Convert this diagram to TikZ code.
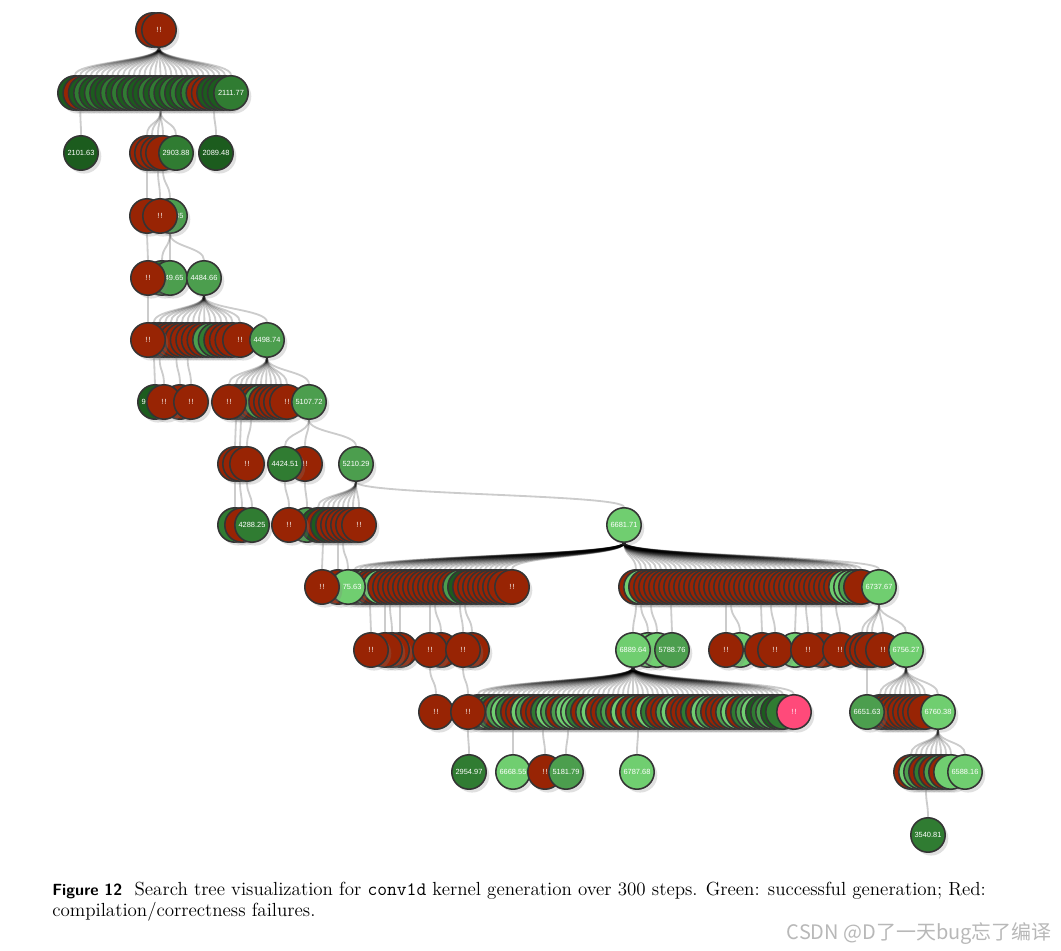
\documentclass[tikz,border=0pt]{standalone}
\usepackage{fontspec}
\newfontfamily\numfont{Liberation Sans}
\newfontfamily\cjkfont{Noto Sans CJK SC}
\usetikzlibrary{positioning, shadows, backgrounds}
\definecolor{failred}{RGB}{152,36,4}
\definecolor{darkok}{RGB}{28,92,30}
\definecolor{midok}{RGB}{48,124,50}
\definecolor{plainok}{RGB}{76,158,78}
\definecolor{lightok}{RGB}{112,206,112}
\definecolor{hotred}{RGB}{255,74,122}
\definecolor{rimgray}{RGB}{52,52,52}

\begin{document}
\begin{tikzpicture}[x=0.025cm, y=-0.025cm,
    kn/.style={circle, draw=rimgray, line width=1.1pt, minimum size=0.86cm, inner sep=0pt, text=white,
      font=\numfont\fontsize{5.3}{6}\selectfont, drop shadow={shadow xshift=2.2pt, shadow yshift=-2.4pt, opacity=0.24}},
    fail/.style={kn, fill=failred}, dkok/.style={kn, fill=darkok}, mdok/.style={kn, fill=midok},
    ok/.style={kn, fill=plainok}, ltok/.style={kn, fill=lightok}, hotfail/.style={kn, fill=hotred},
    treelink/.style={black, opacity=0.2, line width=1.3pt}]
  \useasboundingbox (0,0) rectangle (1061,951);

  \node[fail] (r0b) at (153,30) {};
  \node[fail] (r0) at (159,30) {!\,!};

  \foreach \c [count=\i] in {dkok,fail,dkok,mdok,dkok,mdok,dkok,dkok,mdok,dkok,
      mdok,dkok,mdok,dkok,dkok,mdok,dkok,mdok,dkok,mdok,
      dkok,mdok,dkok,mdok,fail,fail,dkok,dkok,dkok}
    \node[\c] (a\i) at ({75+5.35*(\i-1)},93) {};
  \node[mdok] (a30) at (231,93) {2111.77};

  \node[dkok] (b2101) at (81,153) {2101.63};
  \foreach \x [count=\i] in {147,152,158,163}
    \node[fail] (b\i) at (\x,153) {};
  \node[mdok] (b2903) at (176,153) {2903.88};
  \node[dkok] (b2089) at (216,153) {2089.48};

  \node[fail] (c1) at (147,216) {};
  \node[ok] (c2) at (170,216) {\phantom{0000.}85};
  \node[fail] (c3) at (160,216) {!\,!};

  \node[mdok] (d1) at (162,278) {};
  \node[ok] (d2) at (170,278) {\phantom{00}49.65};
  \node[fail] (d3) at (148,278) {!\,!};
  \node[ok] (d4484) at (204,278) {4484.66};

  \foreach \c [count=\i] in {fail,fail,fail,fail,fail,fail,fail,fail,fail,fail,ok,mdok,fail,fail,fail}
    \node[\c] (e\i) at ({154+5.6*(\i-1)},340) {};
  \node[fail] (e240) at (240,340) {!\,!};
  \node[ok] (e4498) at (267,340) {4498.74};
  \node[fail] (e148) at (148,340) {!\,!};

  \node[dkok] (f1) at (155,402) {9\phantom{000.00}};
  \node[fail] (f2) at (180,402) {};
  \node[fail] (f164) at (164,402) {!\,!};
  \node[fail] (f191) at (191,402) {!\,!};
  \foreach \c [count=\i] in {fail,fail,fail,fail,fail,ok,fail,fail,fail,fail}
    \node[\c] (g\i) at ({236+5*(\i-1)},402) {};
  \node[fail] (g229) at (229,402) {!\,!};
  \node[fail] (g287) at (287,402) {!\,!};
  \node[ok] (g5107) at (309,402) {5107.72};

  \node[fail] (h1) at (235,464) {};
  \node[fail] (h2) at (240,464) {};
  \node[fail] (h3) at (247,464) {!\,!};
  \node[fail] (h305) at (305,464) {!\,!};
  \node[mdok] (h4424) at (285,464) {4424.51};
  \node[ok] (h5210) at (356,464) {5210.29};

  \node[mdok] (i1) at (235,525) {};
  \node[fail] (i2) at (242,525) {};
  \node[mdok] (i4288) at (252,525) {4288.25};
  \node[ok] (j307) at (307,525) {\phantom{000}2\phantom{.00}};
  \foreach \x/\c [count=\i] in {318/dkok,323/fail,328/dkok,333/fail,338/fail,343/fail,348/fail,353/fail}
    \node[\c] (j\i) at (\x,525) {};
  \node[fail] (j359) at (359,525) {!\,!};
  \node[fail] (j289) at (289,525) {!\,!};
  \node[ltok] (j6681) at (624,525) {6681.71};

  \foreach \c [count=\i] in {fail,fail,ltok,fail,fail,ltok,fail,fail,fail,fail,
      fail,fail,fail,fail,fail,fail,fail,fail,fail,fail,
      fail,ok,dkok,fail,fail,fail,fail,fail,fail,fail,fail}
    \node[\c] (k\i) at ({355+5*(\i-1)},587) {};
  \node[fail] (k512) at (512,587) {!\,!};
  \node[fail] (k340) at (338,587) {};
  \node[ltok] (k347) at (348,587) {\phantom{00}75.63};
  \node[fail] (k322) at (322,587) {!\,!};

  \foreach \c [count=\i] in {fail,ltok,fail,fail,fail,fail,fail,fail,fail,fail,
      fail,fail,fail,fail,fail,fail,fail,fail,fail,fail,
      fail,fail,fail,fail,fail,fail,fail,fail,fail,fail,
      fail,fail,fail,fail,fail,fail,fail,fail,fail,fail,
      fail,fail,ltok,ltok,ok,fail}
    \node[\c] (m\i) at ({636+5*(\i-1)},587) {};
  \node[ltok] (m6737) at (879,587) {6737.67};

  \node[fail] (n3) at (400,650) {};
  \node[fail] (n2) at (392,650) {};
  \node[fail] (n1) at (385,650) {};
  \node[fail] (n371) at (371,650) {!\,!};
  \node[fail] (n440) at (441,650) {};
  \node[fail] (n430) at (430,650) {!\,!};
  \node[fail] (n472) at (472,650) {};
  \node[fail] (n463) at (463,650) {!\,!};

  \node[ltok] (o2) at (648,650) {};
  \node[ltok] (o3) at (657,650) {};
  \node[ok] (o5788) at (672,650) {5788.76};
  \node[ltok] (o6889) at (633,650) {6889.64};

  \node[ltok] (p1) at (740,650) {};
  \node[fail] (p726) at (726,650) {!\,!};
  \node[fail] (p2) at (762,650) {};
  \node[ltok] (p3) at (795,650) {};
  \node[fail] (p775) at (775,650) {!\,!};
  \node[fail] (p4) at (822,650) {};
  \node[fail] (p808) at (808,650) {!\,!};
  \node[fail] (p840) at (840,650) {!\,!};
  \node[fail] (p5) at (862,650) {};
  \node[fail] (p6) at (867,650) {};
  \node[fail] (p7) at (872,650) {};
  \node[fail] (p883) at (883,650) {!\,!};
  \node[ltok] (p6756) at (906,650) {6756.27};

  \node[fail] (q436) at (436,712) {!\,!};
  \foreach \c [count=\i] in {fail,dkok,ltok,mdok,fail,ok,ltok,mdok,fail,fail,
      ltok,ok,fail,fail,mdok,ltok,ok,fail,ok,ltok,
      ltok,mdok,fail,ok,ltok,fail,fail,mdok,ok,fail,
      ltok,fail,ok,fail,fail,ltok,mdok,fail,fail,ok,
      ltok,fail,fail,fail,mdok,fail,ltok,ok,fail,fail,
      fail,ok,ltok,fail,mdok,ok,ltok,dkok,mdok,ok,
      dkok,mdok}
    \node[\c] (q\i) at ({478+5*(\i-1)},712) {};
  \node[fail] (q468) at (468,712) {!\,!};
  \node[hotfail] (q794) at (794,712) {!\,!};

  \foreach \c [count=\i] in {ok,fail,fail,fail,fail,fail,fail,fail,fail,fail}
    \node[\c] (t\i) at ({880+5*(\i-1)},712) {};
  \node[ltok] (t6760) at (938,712) {6760.38};
  \node[ok] (t6651) at (867,712) {6651.63};

  \node[mdok] (s2954) at (469,772) {2954.97};
  \node[ltok] (s6668) at (513,772) {6668.55};
  \node[fail] (s545) at (545,772) {!\,!};
  \node[ok] (s5181) at (566,772) {5181.79};
  \node[ltok] (s6787) at (637,772) {6787.68};
  \foreach \c [count=\i] in {fail,ltok,ok,fail,mdok,fail,ok,fail,ltok}
    \node[\c] (u\i) at ({911+5*(\i-1)},772) {};
  \node[ltok] (u6588) at (965,772) {6588.16};

  \node[mdok] (v3540) at (928,835) {3540.81};

  \node[anchor=north west, align=left, inner sep=0pt, font=\fontsize{13.5}{14.6}\selectfont] (caption) at (52,882)
    {{\fontsize{11.5}{14}\selectfont\textsf{\textbf{Figure 12}}}\ \ Search tree visualization for \texttt{conv1d} kernel generation over 300 steps. Green: successful generation; Red:\\compilation/correctness failures.};
  \node[anchor=east, inner sep=0pt, text=black!28, font=\cjkfont\fontsize{14.2}{14.2}\selectfont] (mark) at (1052,934) {CSDN @D了一天bug忘了编译};

  \begin{scope}[on background layer]
    \fill[white] (0,0) rectangle (1061,951);
    \foreach \i in {1,...,30}
      \draw[treelink] (r0) .. controls +(0,31) and +(0,-31) .. (a\i);
    \foreach \c in {b1,b2,b3,b4,b2903}
      \draw[treelink] (a17) .. controls +(0,31) and +(0,-31) .. (\c);
    \foreach \c in {d1,d2,d4484}
      \draw[treelink] (c2) .. controls +(0,31) and +(0,-31) .. (\c);
    \foreach \c in {e1,e2,e3,e4,e5,e6,e7,e8,e9,e10,e11,e12,e13,e14,e15,e240,e4498}
      \draw[treelink] (d4484) .. controls +(0,31) and +(0,-31) .. (\c);
    \foreach \c in {g229,g1,g2,g3,g4,g5,g6,g7,g8,g9,g10,g287,g5107}
      \draw[treelink] (e4498) .. controls +(0,31) and +(0,-31) .. (\c);
    \foreach \c in {h4424,h305,h5210}
      \draw[treelink] (g5107) .. controls +(0,31) and +(0,-31) .. (\c);
    \foreach \c in {j1,j2,j3,j4,j5,j6,j7,j8,j359,j6681}
      \draw[treelink] (h5210) .. controls +(0,31) and +(0,-31) .. (\c);
    \foreach \i in {1,...,31}
      \draw[treelink] (j6681) .. controls +(0,31) and +(0,-31) .. (k\i);
    \foreach \i in {1,...,46}
      \draw[treelink] (j6681) .. controls +(0,31) and +(0,-31) .. (m\i);
    \foreach \c in {k512,m6737}
      \draw[treelink] (j6681) .. controls +(0,31) and +(0,-31) .. (\c);
    \foreach \c in {p5,p6,p7,p883,p6756}
      \draw[treelink] (m6737) .. controls +(0,31) and +(0,-31) .. (\c);
    \foreach \i in {1,...,62}
      \draw[treelink] (o6889) .. controls +(0,31) and +(0,-31) .. (q\i);
    \draw[treelink] (o6889) .. controls +(0,31) and +(0,-31) .. (q794);
    \foreach \c in {t1,t2,t3,t4,t5,t6,t7,t8,t9,t10,t6760}
      \draw[treelink] (p6756) .. controls +(0,31) and +(0,-31) .. (\c);
    \foreach \c in {u1,u2,u3,u4,u5,u6,u7,u8,u9,u6588}
      \draw[treelink] (t6760) .. controls +(0,31) and +(0,-31) .. (\c);
    \foreach \p/\c in {a2/b2101,a27/b2089,b1/c1,b3/c3,b4/c2,c1/d3,d3/e148,
        e1/f1,e2/f164,e5/f2,e7/f191,g1/h1,g2/h2,g4/h3,h1/i1,h2/i2,h3/i4288,
        h4424/j289,h305/j307,j2/k322,j5/k340,j6/k347,
        k4/n371,k7/n1,k8/n2,k10/n3,k16/n430,k17/n440,k22/n463,k23/n472,
        m1/o6889,m2/o2,m4/o3,m8/o5788,m19/p726,m20/p1,m26/p2,m28/p775,
        m33/p3,m35/p808,m38/p4,m41/p840,n430/q436,n463/q468,
        q468/s2954,q8/s6668,q14/s545,q19/s5181,q33/s6787,p6/t6651,u4/v3540}
      \draw[treelink] (\p) .. controls +(0,31) and +(0,-31) .. (\c);
  \end{scope}
\end{tikzpicture}
\end{document}
